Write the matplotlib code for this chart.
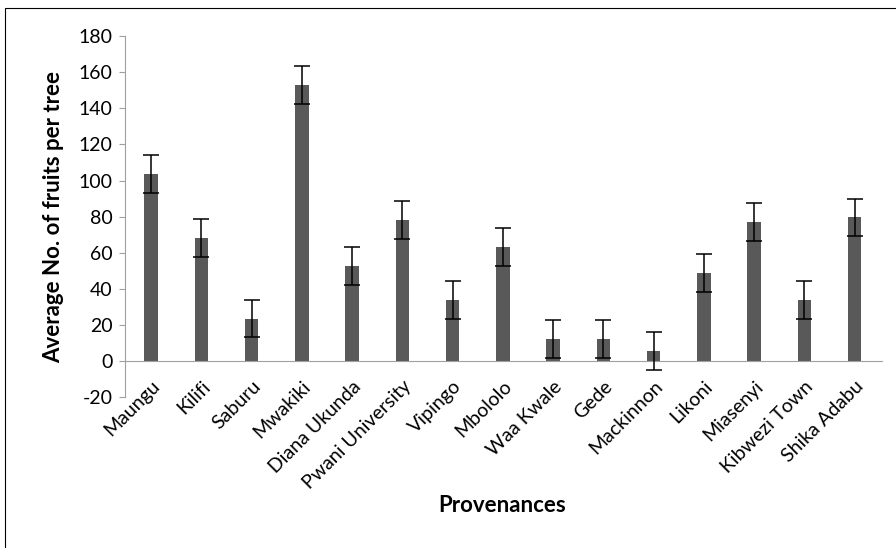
import matplotlib.pyplot as plt
from matplotlib.patches import Rectangle

provenances = ["Maungu", "Kilifi", "Saburu", "Mwakiki", "Diana Ukunda", "Pwani University",
               "Vipingo", "Mbololo", "Waa Kwale", "Gede", "Mackinnon", "Likoni",
               "Miasenyi", "Kibwezi Town", "Shika Adabu"]
mean_fruits = [103.5, 68, 23.5, 152.8, 52.8, 78, 34, 63.3, 12, 12, 5.4, 48.5, 76.8, 34, 79.5]
std_err = [10.5] * len(mean_fruits)
y_ticks = [-20, 0, 20, 40, 60, 80, 100, 120, 140, 160, 180]

label_font = ["Lato", "DejaVu Sans"]

fig = plt.figure(figsize=(8.96, 5.48), dpi=100)
ax = fig.add_axes([0.1395, 0.2755, 0.8445, 0.6585])

# axis crosses at zero like the Excel original (set before labels, it resets ticks)
for side in ["top", "right"]:
    ax.spines[side].set_visible(False)
ax.spines["bottom"].set_position(("data", 0))
ax.spines["bottom"].set_color("#a0a0a0")
ax.spines["left"].set_color("#a0a0a0")

x = range(len(provenances))
ax.bar(x, mean_fruits, width=0.27, color="#595959", zorder=2)
ax.errorbar(x, mean_fruits, yerr=std_err, fmt="none", ecolor="black",
            elinewidth=1.1, capsize=6, capthick=1.1, zorder=3)

ax.set_xlim(-0.52, 14.54)
ax.set_ylim(-20, 180)
ax.set_yticks(y_ticks)
ax.set_yticklabels([str(t) for t in y_ticks], family=label_font, fontsize=14)

ax.set_xticks(list(x))
ax.set_xticklabels(provenances, rotation=45, ha="right", rotation_mode="anchor",
                   family=label_font, fontsize=14)
ax.tick_params(axis="x", length=0, pad=12)
ax.tick_params(axis="y", length=4, color="#a0a0a0", direction="out", pad=5)

ax.set_ylabel("Average No. of fruits per tree", family=label_font, fontsize=16,
              fontweight="bold", labelpad=10)
fig.text(0.56, 0.065, "Provenances", ha="center", family=label_font,
         fontsize=16, fontweight="bold")

fig.patches.append(Rectangle((0.006, -0.01), 1.1, 0.995, transform=fig.transFigure,
                             fill=False, edgecolor="black", linewidth=0.8))

fig.savefig("out.png", dpi=100)
plt.close(fig)
